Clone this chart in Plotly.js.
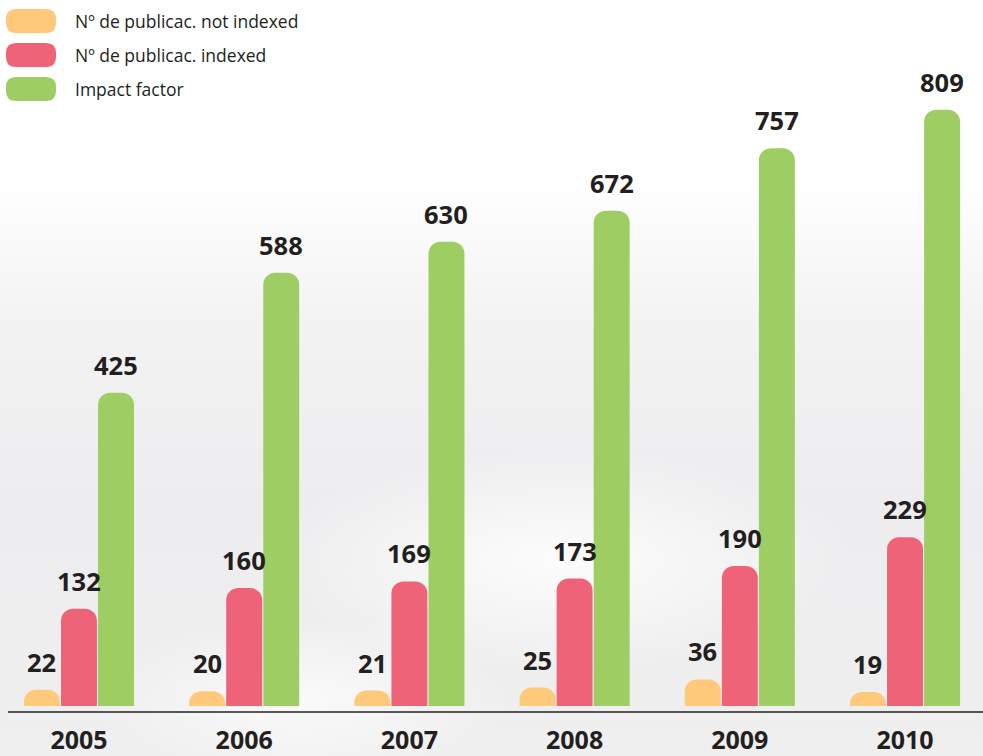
<!DOCTYPE html>
<html>
<head>
<meta charset="utf-8">
<script src="https://cdn.plot.ly/plotly-3.0.1.min.js"></script>
<style>
html,body{margin:0;padding:0;}
#wrap{width:983px;height:756px;position:relative;
background:
 radial-gradient(ellipse 420px 160px at 560px 560px, rgba(255,255,255,0.85), rgba(255,255,255,0) 70%),
 radial-gradient(ellipse 300px 120px at 300px 700px, rgba(255,255,255,0.7), rgba(255,255,255,0) 70%),
 linear-gradient(to bottom, #ffffff 0px, #ffffff 180px, #f3f3f4 320px, #ededef 500px, #efeff0 756px);}
#chart{width:983px;height:756px;}
</style>
</head>
<body>
<div id="wrap"><div id="chart"></div></div>
<script>
// ---- data ----
const years = ['2005', '2006', '2007', '2008', '2009', '2010'];
const seriesNames = ['Nº de publicac. not indexed', 'Nº de publicac. indexed', 'Impact factor'];
const notIndexed = [22, 20, 21, 25, 36, 19];
const indexed = [132, 160, 169, 173, 190, 229];
const impactFactor = [425, 588, 630, 672, 757, 809];
const seriesColors = ['#fec97b', '#ef6378', '#9ecd63'];

const seriesValues = [notIndexed, indexed, impactFactor];
const xIdx = years.map((_, i) => i);
const bargap = 0.327;
const textFont = {family: 'Open Sans, Noto Sans, sans-serif',
  size: 25.5, color: '#231f20', weight: 700};

const traces = seriesValues.map((vals, s) => ({
  type: 'bar', x: xIdx, y: vals, name: seriesNames[s],
  marker: {color: seriesColors[s], cornerradius: 12, line: {width: 0}},
  hoverinfo: 'skip'
}));

const annotations = [];
seriesValues.forEach((vals, s) => {
  const off = (s - 1) * (1 - bargap) / 3;
  vals.forEach((v, i) => {
    annotations.push({x: i + off, y: v, xref: 'x', yref: 'y', text: String(v),
      showarrow: false, yanchor: 'bottom', yshift: 9, font: textFont});
  });
});

// legend drawn with shapes + annotations
function pill(w, h, r) {
  return `M0,${-h/2+r} L0,${h/2-r} Q0,${h/2} ${r},${h/2} L${w-r},${h/2} Q${w},${h/2} ${w},${h/2-r} L${w},${-h/2+r} Q${w},${-h/2} ${w-r},${-h/2} L${r},${-h/2} Q0,${-h/2} 0,${-h/2+r} Z`;
}
const plotH = 712;
const shapes = [];
seriesNames.forEach((nm, s) => {
  const yc = 1 - (21 + 34 * s) / plotH;
  shapes.push({type: 'path', xref: 'paper', yref: 'paper', xsizemode: 'pixel', ysizemode: 'pixel',
    xanchor: 6 / 983, yanchor: yc, path: pill(50, 24, 10), fillcolor: seriesColors[s], line: {width: 0}, layer: 'above'});
  annotations.push({xref: 'paper', yref: 'paper', x: 73 / 983, y: yc, xanchor: 'left', yanchor: 'middle',
    text: nm, showarrow: false, font: {family: 'Open Sans, sans-serif', size: 17.5, color: '#231f20'}});
});
// baseline rule
shapes.push({type: 'line', xref: 'paper', yref: 'paper', x0: 8 / 983, x1: 1, y0: 0, y1: 0,
  line: {color: '#222222', width: 1.5}, layer: 'above'});

const layout = {
  width: 983, height: 756,
  margin: {l: 0, r: 0, t: 0, b: 44},
  paper_bgcolor: 'rgba(0,0,0,0)', plot_bgcolor: 'rgba(0,0,0,0)',
  barmode: 'group', bargap: bargap, bargroupgap: 0.03,
  showlegend: false,
  xaxis: {range: [-0.478, 5.472], tickvals: xIdx, ticktext: years, showgrid: false, zeroline: false,
    showline: false, ticks: '', ticklabelstandoff: 11,
    tickfont: {family: 'Open Sans, sans-serif', size: 25, color: '#231f20', weight: 700}, fixedrange: true},
  yaxis: {range: [-8.14, 958], visible: false, showgrid: false, zeroline: false, fixedrange: true},
  shapes: shapes, annotations: annotations
};
Plotly.newPlot('chart', traces, layout, {displayModeBar: false, staticPlot: true});
</script>
</body>
</html>
